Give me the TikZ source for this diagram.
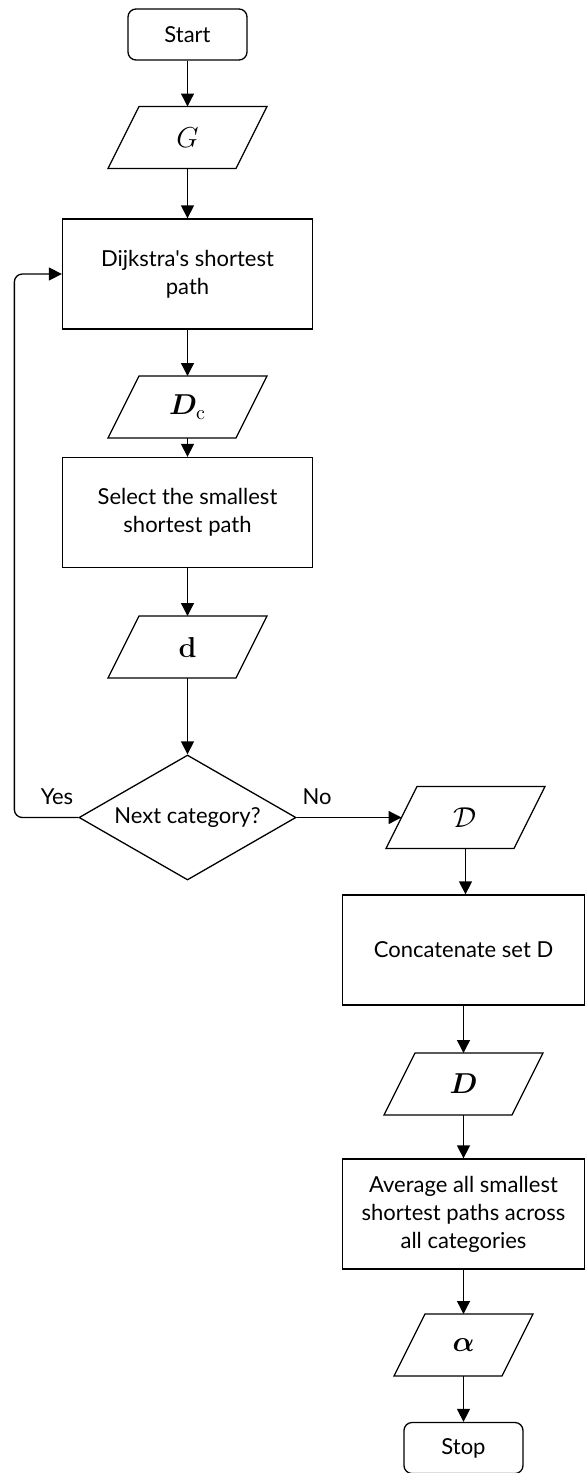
\documentclass[tikz,border=0pt]{standalone}
\usepackage[no-math]{fontspec}
\setmainfont{Lato}[Ligatures=TeXOff]
\usepackage{amsmath,bm}
\usetikzlibrary{shapes.geometric,arrows.meta}

\tikzset{
  base/.style={draw, line width=0.65pt, font=\fontsize{11}{14}\selectfont, align=center, inner sep=2pt},
  term/.style={base, rounded corners=4pt, minimum width=59.5pt, minimum height=25.5pt},
  proc/.style={base, minimum width=125pt, minimum height=55pt},
  % slanted data box: an invisible rectangle carries the text and anchors,
  % its outline is sheared by 7.75pt at top and bottom
  io/.style={base, draw=none, outer sep=0pt, minimum width=64pt, minimum height=31pt,
    font=\fontsize{14}{16}\selectfont,
    append after command={\pgfextra{\draw[line width=0.65pt, line join=miter]
      ([xshift=7.75pt]\tikzlastnode.north west) -- ([xshift=7.75pt]\tikzlastnode.north east) --
      ([xshift=-7.75pt]\tikzlastnode.south east) -- ([xshift=-7.75pt]\tikzlastnode.south west) -- cycle;}}},
  decision/.style={base, diamond, aspect=1.736, minimum width=108.5pt, minimum height=62.5pt, inner sep=0pt},
  flow/.style={line width=0.65pt, -{Triangle[width=6.5pt,length=6.5pt]}},
  lbl/.style={font=\fontsize{11}{14}\selectfont}
}

\begin{document}
\begin{tikzpicture}[x=0.5pt,y=-0.5pt]
\useasboundingbox (0,0) rectangle (584,1473);

% left column
\node[term]     (start) at (187.5,34.5)  {Start};
\node[io]       (G)     at (187.5,137.5) {$G$};
\node[proc]     (dijk)  at (187.5,274)   {Dijkstra's shortest\\path};
\node[io]       (Dc)    at (187.5,407)   {$\bm{D}_{\mathrm{c}}$};
\node[proc]     (sel)   at (187.5,512.5) {Select the smallest\\shortest path};
\node[io]       (d)     at (187.5,647)   {$\mathbf{d}$};
\node[decision] (dec)   at (187.5,817.5) {Next category?};

% right column
\node[io]   (Dset)  at (465.5,817.5) {$\mathcal{D}$};
\node[proc, minimum width=121pt] (cat) at (463.5,950) {Concatenate set D};
\node[io]   (Dmat)  at (463.5,1084) {$\bm{D}$};
\node[proc, minimum width=121pt] (avg) at (463.5,1214) {Average all smallest\\shortest paths across\\all categories};
\node[io, minimum width=54pt] (alpha) at (463.5,1345) {$\bm{\alpha}$};
\node[term] (stop)  at (463.5,1448) {Stop};

% connectors
\draw[flow] (start) -- (G);
\draw[flow] (G) -- (dijk);
\draw[flow] (dijk) -- (Dc);
\draw[flow] (Dc) -- (sel);
\draw[flow] (sel) -- (d);
\draw[flow] (d) -- (dec);
\draw[flow] (dec.east) -- (Dset.west);
\draw[flow, rounded corners=4pt] (dec.west) -- ++(-64,0) |- (dijk.west);
\draw[flow] (Dset.south) -- (Dset.south |- cat.north);
\draw[flow] (cat) -- (Dmat);
\draw[flow] (Dmat) -- (avg);
\draw[flow] (avg) -- (alpha);
\draw[flow] (alpha) -- (stop);

% branch labels
\node[lbl] (yes) at (57,797) {Yes};
\node[lbl] (no)  at (317,797) {No};
\end{tikzpicture}
\end{document}
